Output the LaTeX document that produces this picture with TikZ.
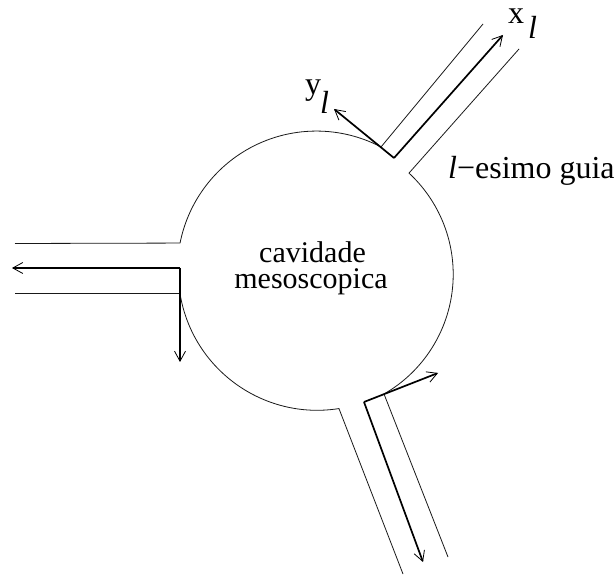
\documentclass[tikz,border=0pt]{standalone}
\usepackage{fontspec}
\setmainfont{Liberation Serif}
\usetikzlibrary{arrows.meta}
\tikzset{
  wall/.style={line width=0.8pt,black!90,line join=miter},
  axis/.style={line width=1.7pt,black,-{Straight Barb[length=10pt,width=11pt,line width=0.8pt]}},
  lab/.style={font=\fontsize{30}{30}\selectfont,inner sep=0pt,anchor=base west},
  biglab/.style={lab,font=\fontsize{32}{32}\selectfont}
}
\begin{document}
\begin{tikzpicture}[x=1pt,y=1pt]
\useasboundingbox (0,0) rectangle (615,575);
% all y = 575 - pixel y
\coordinate (t1a) at (483,551);
\coordinate (t1b) at (381,428);
\coordinate (t2a) at (519,526);
\coordinate (t2b) at (409,402);
\coordinate (l1a) at (15,331.5);
\coordinate (l1b) at (180,331.5);
\coordinate (l2a) at (15,281.5);
\coordinate (l2b) at (180,281.5);
\coordinate (b1a) at (403,1);
\coordinate (b1b) at (339,167);
\coordinate (b2a) at (448,18);
\coordinate (b2b) at (384,181);
% cavity and guides
\draw[wall] (t1a) -- (t1b) arc[start angle=62.3,end angle=168.8,radius=139] -- (l1a);
\draw[wall] (l2a) -- (l2b) arc[start angle=189.2,end angle=279,radius=139] -- (b1a);
\draw[wall] (b2a) -- (b2b) arc[start angle=299.9,end angle=407.2,radius=138] -- (t2a);
% axes
\coordinate (co1) at (394,417);
\coordinate (x1) at (503,540);
\coordinate (y1) at (334,466);
\coordinate (co2) at (180,307);
\coordinate (x2) at (12,307);
\coordinate (y2) at (180,213);
\coordinate (co3) at (364,173);
\coordinate (x3) at (423,13);
\coordinate (y3) at (438,202);
\draw[axis] (co1) -- (x1);
\draw[axis] (co1) -- (y1);
\draw[axis] (co2) -- (x2);
\draw[axis] (co2) -- (y2);
\draw[axis] (co3) -- (x3);
\draw[axis] (co3) -- (y3);
% labels
\node[biglab] (xl) at (508,551) {x};
\node[biglab] (xls) at (528,536) {\textit{l}};
\node[biglab] (yl) at (305,480) {y};
\node[biglab] (yls) at (320,461) {\textit{l}};
\node[biglab] (guia) at (448,396) {\textit{l}−esimo guia};
\node[lab] (cav) at (312.5,312) [anchor=base] {cavidade};
\node[lab] (meso) at (311,286) [anchor=base] {mesoscopica};
\end{tikzpicture}
\end{document}
